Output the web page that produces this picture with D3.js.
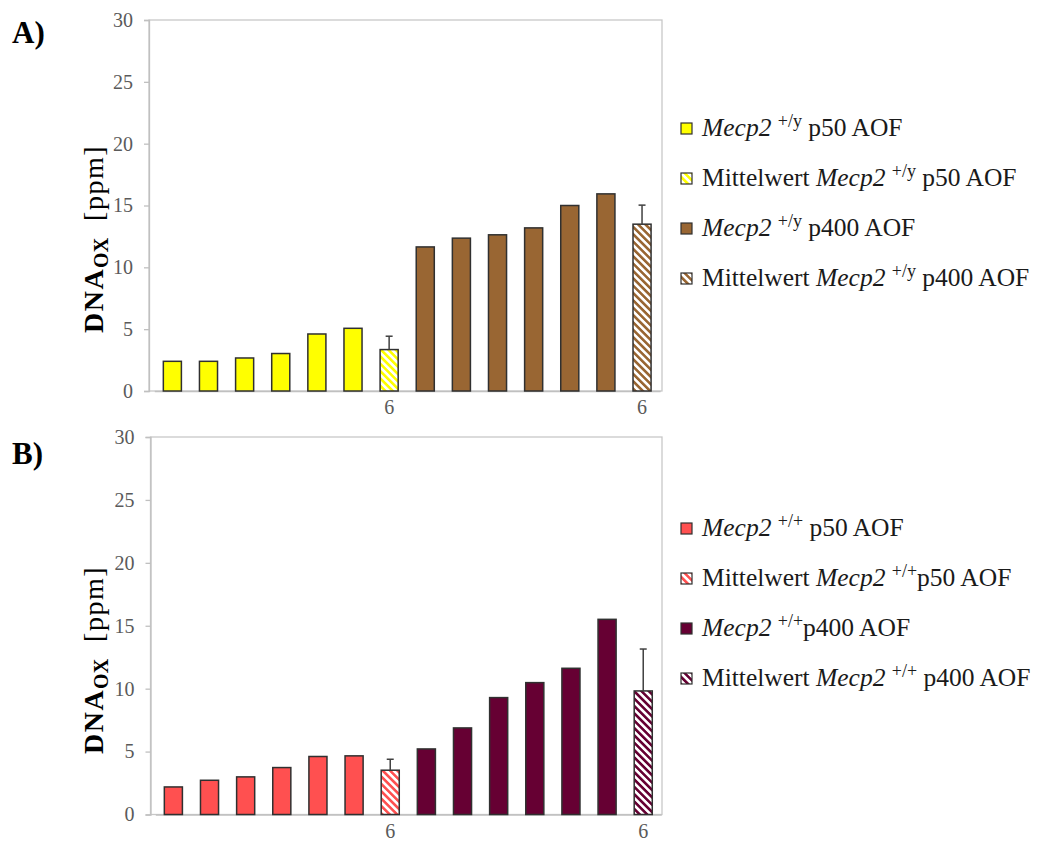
<!DOCTYPE html>
<html>
<head>
<meta charset="utf-8">
<script src="https://cdn.jsdelivr.net/npm/d3@7"></script>
<style>
  body { margin: 0; background: #fff; }
  svg { font-family: "Liberation Serif", "DejaVu Serif", serif; }
  text { white-space: pre; }
</style>
</head>
<body>
<svg id="chart" width="1045" height="842"></svg>
<script>
// samples along the category axis, with the "n" label under the two mean bars
var categories = [1, 2, 3, 4, 5, 6, 7, 8, 9, 10, 11, 12, 13, 14];
var tickLabels = ["", "", "", "", "", "", "6", "", "", "", "", "", "", "6"];
var yTicks = [0, 5, 10, 15, 20, 25, 30];

// which series each bar belongs to
var seriesOf = ["p50", "p50", "p50", "p50", "p50", "p50", "mean50",
                "p400", "p400", "p400", "p400", "p400", "p400", "mean400"];

// A) Mecp2 +/y
var valuesA = [2.4, 2.4, 2.67, 3.03, 4.61, 5.07, 3.35, 11.65, 12.36, 12.63, 13.19, 15.0, 15.94, 13.49];
var errorsA = [0, 0, 0, 0, 0, 0, 1.08, 0, 0, 0, 0, 0, 0, 1.54];
var genotypeA = "+/y";

// B) Mecp2 +/+
var valuesB = [2.19, 2.72, 2.99, 3.73, 4.61, 4.66, 3.52, 5.21, 6.88, 9.29, 10.48, 11.62, 15.51, 9.82];
var errorsB = [0, 0, 0, 0, 0, 0, 0.87, 0, 0, 0, 0, 0, 0, 3.33];
var genotypeB = "+/+";

// legend entries
var legendSeries = ["p50", "mean50", "p400", "mean400"];
var legendPrefixA = ["", "Mittelwert ", "", "Mittelwert "];
var legendSuffixA = [" p50 AOF", " p50 AOF", " p400 AOF", " p400 AOF"];
var legendPrefixB = ["", "Mittelwert ", "", "Mittelwert "];
var legendSuffixB = [" p50 AOF", "p50 AOF", "p400 AOF", " p400 AOF"];

var svg = d3.select("#chart");
var defs = svg.append("defs");

// hatched fill for the mean bars
function hatch(id, color) {
    var p = defs.append("pattern")
        .attr("id", id)
        .attr("patternUnits", "userSpaceOnUse")
        .attr("width", 5.2)
        .attr("height", 5.2)
        .attr("patternTransform", "rotate(-45)");
    p.append("rect").attr("width", 5.2).attr("height", 5.2).attr("fill", "#fff");
    p.append("rect").attr("width", 2.6).attr("height", 5.2).attr("fill", color);
}

function drawPanel(cfg) {
    var colors = {
        p50: cfg.c50, mean50: "url(#" + cfg.id + "h50)",
        p400: cfg.c400, mean400: "url(#" + cfg.id + "h400)"
    };
    hatch(cfg.id + "h50", cfg.c50);
    hatch(cfg.id + "h400", cfg.c400);

    var g = svg.append("g");

    var x = d3.scaleBand()
        .domain(categories)
        .range([cfg.band0, cfg.band1])
        .paddingInner(0.5)
        .paddingOuter(0.25);
    var y = d3.scaleLinear()
        .domain([0, 30])
        .range([cfg.bottom, cfg.top]);

    // plot frame
    g.append("rect")
        .attr("x", cfg.left).attr("y", cfg.top)
        .attr("width", cfg.right - cfg.left).attr("height", cfg.bottom - cfg.top)
        .attr("fill", "none").attr("stroke", "#c8c8c8").attr("stroke-width", 1.3);

    var yAxis = g.append("g")
        .attr("transform", "translate(" + cfg.left + ",0)")
        .call(d3.axisLeft(y).tickValues(yTicks).tickSize(5).tickPadding(11));
    yAxis.select(".domain").attr("stroke", "#c0c0c0").attr("stroke-width", 1.3);
    yAxis.selectAll(".tick line").attr("stroke", "#c0c0c0").attr("stroke-width", 1.3);
    yAxis.selectAll(".tick text")
        .attr("fill", "#5a5a5a")
        .style("font-size", "20px")
        .style("font-family", "'Liberation Serif', serif");

    var xAxis = g.append("g")
        .attr("transform", "translate(0," + cfg.bottom + ")")
        .call(d3.axisBottom(x).tickSize(0).tickPadding(9)
            .tickFormat(function(d, i) { return tickLabels[i]; }));
    xAxis.select(".domain").attr("stroke", "#c0c0c0").attr("stroke-width", 1.3);
    xAxis.selectAll(".tick text")
        .attr("fill", "#5a5a5a")
        .style("font-size", "20px")
        .style("font-family", "'Liberation Serif', serif");

    // bars
    g.selectAll("rect.bar")
        .data(cfg.values)
        .enter().append("rect")
        .attr("class", "bar")
        .attr("x", function(d, i) { return x(categories[i]); })
        .attr("width", x.bandwidth())
        .attr("y", function(d) { return y(d); })
        .attr("height", function(d) { return y(0) - y(d); })
        .attr("fill", function(d, i) { return colors[seriesOf[i]]; })
        .attr("stroke", "#303030")
        .attr("stroke-width", 1.5);

    // error bars (upper only)
    var errs = cfg.values.map(function(v, i) { return {i: i, v: v, e: cfg.errors[i]}; })
        .filter(function(d) { return d.e > 0; });
    var eb = g.selectAll("g.err").data(errs).enter().append("g")
        .attr("class", "err")
        .attr("stroke", "#404040")
        .attr("stroke-width", 1.5);
    eb.append("line")
        .attr("x1", function(d) { return x(categories[d.i]) + x.bandwidth() / 2; })
        .attr("x2", function(d) { return x(categories[d.i]) + x.bandwidth() / 2; })
        .attr("y1", function(d) { return y(d.v); })
        .attr("y2", function(d) { return y(d.v + d.e); });
    eb.append("line")
        .attr("x1", function(d) { return x(categories[d.i]) + x.bandwidth() / 2 - 3.5; })
        .attr("x2", function(d) { return x(categories[d.i]) + x.bandwidth() / 2 + 3.5; })
        .attr("y1", function(d) { return y(d.v + d.e); })
        .attr("y2", function(d) { return y(d.v + d.e); });

    // y axis title
    var yt = g.append("text")
        .attr("transform", "translate(" + cfg.titleX + "," + cfg.titleY + ") rotate(-90)")
        .attr("text-anchor", "middle")
        .attr("fill", "#000")
        .style("font-size", "28px");
    yt.append("tspan").attr("font-weight", "bold").attr("letter-spacing", 1.5).text("DNA");
    yt.append("tspan").attr("font-weight", "bold").attr("font-size", "20px")
        .attr("dy", 5).text("OX");
    yt.append("tspan").attr("dy", -5).attr("letter-spacing", 1.5).text("  [ppm]");

    // panel letter
    g.append("text")
        .attr("x", 12).attr("y", cfg.letterY)
        .attr("font-weight", "bold")
        .style("font-size", "31px")
        .text(cfg.letter);

    // legend
    var lg = g.selectAll("g.leg")
        .data(legendSeries)
        .enter().append("g")
        .attr("class", "leg")
        .attr("transform", function(d, i) { return "translate(681," + (cfg.legendY + i * 50) + ")"; });
    lg.append("rect")
        .attr("x", 0).attr("y", -13)
        .attr("width", 11).attr("height", 11)
        .attr("fill", function(d) { return colors[d]; })
        .attr("stroke", "#303030")
        .attr("stroke-width", 1.2);
    var lt = lg.append("text")
        .attr("x", 21)
        .attr("fill", "#1a1a1a")
        .style("font-size", "25.5px");
    lt.append("tspan").text(function(d, i) { return cfg.prefix[i]; });
    lt.append("tspan").attr("font-style", "italic").text("Mecp2 ");
    lt.append("tspan").attr("font-size", "18px").attr("dy", -9).text(cfg.genotype);
    lt.append("tspan").attr("dy", 9).text(function(d, i) { return cfg.suffix[i]; });
}

drawPanel({
    id: "a", letter: "A)", letterY: 43,
    values: valuesA, errors: errorsA, genotype: genotypeA,
    prefix: legendPrefixA, suffix: legendSuffixA,
    c50: "#ffff00", c400: "#996633",
    left: 149, right: 662, top: 20, bottom: 391,
    band0: 154.3, band1: 660.1,
    titleX: 103, titleY: 239, legendY: 136
});

drawPanel({
    id: "b", letter: "B)", letterY: 464,
    values: valuesB, errors: errorsB, genotype: genotypeB,
    prefix: legendPrefixB, suffix: legendSuffixB,
    c50: "#ff5050", c400: "#660033",
    left: 150.5, right: 662, top: 437, bottom: 814.5,
    band0: 155.3, band1: 661.3,
    titleX: 103, titleY: 660, legendY: 536
});
</script>
</body>
</html>
